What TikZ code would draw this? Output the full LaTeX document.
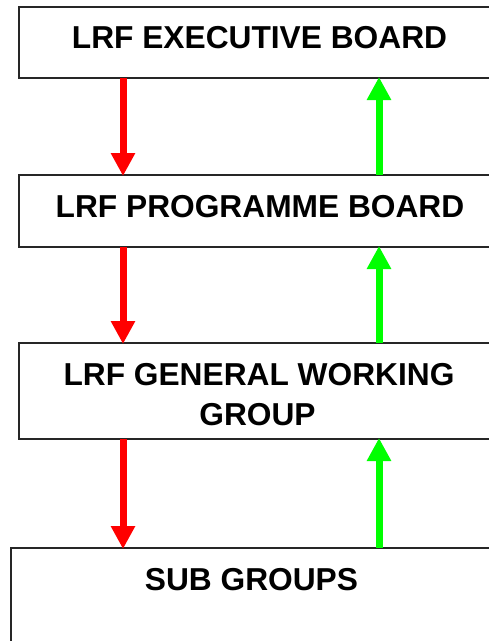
\documentclass[tikz,border=0pt]{standalone}
\usepackage{fontspec}
\setmainfont{Liberation Sans}
\usetikzlibrary{arrows.meta}
\definecolor{downred}{RGB}{255,0,0}
\definecolor{upgreen}{RGB}{0,255,0}
\begin{document}
\begin{tikzpicture}[x=1pt,y=-1pt,
  box/.style={draw=black!85,line width=1.6pt,fill=white},
  lbl/.style={anchor=base,inner sep=0pt,font=\fontsize{31.7}{40}\selectfont\bfseries},
  downarr/.style={draw=downred,line width=7pt,-{Triangle[width=23pt,length=23pt]}},
  uparr/.style={draw=upgreen,line width=7pt,-{Triangle[width=23pt,length=23pt]}}]
\useasboundingbox (0,0) rectangle (489,641);
\clip (0,0) rectangle (489,641);
\fill[white] (0,0) rectangle (489,641);
\coordinate (rx) at (123,0);
\coordinate (gx) at (379,0);
\draw[box] (19,7) rectangle (499,78);
\coordinate (b1s) at (19,78);
\draw[box] (19,175) rectangle (499,247);
\coordinate (b2n) at (19,175);
\coordinate (b2s) at (19,247);
\draw[box] (19,343) rectangle (499,439);
\coordinate (b3n) at (19,343);
\coordinate (b3s) at (19,439);
\draw[box] (11,548) rectangle (492,680);
\coordinate (b4n) at (11,548);
\node[lbl] (t1) at (259.5,48) {LRF EXECUTIVE BOARD};
\node[lbl] (t2) at (260,217) {LRF PROGRAMME BOARD};
\node[lbl] (t3a) at (259,385) {LRF GENERAL WORKING};
\node[lbl] (t3b) at (257.5,425) {GROUP};
\node[lbl] (t4) at (251.5,590) {SUB GROUPS};
\draw[downarr] (b1s -| rx) -- ([yshift=-1pt]b2n -| rx);
\draw[downarr] (b2s -| rx) -- ([yshift=-1pt]b3n -| rx);
\draw[downarr] (b3s -| rx) -- ([yshift=-1pt]b4n -| rx);
\draw[uparr] (b2n -| gx) -- ([yshift=1pt]b1s -| gx);
\draw[uparr] (b3n -| gx) -- ([yshift=1pt]b2s -| gx);
\draw[uparr] (b4n -| gx) -- ([yshift=1pt]b3s -| gx);
\end{tikzpicture}
\end{document}
